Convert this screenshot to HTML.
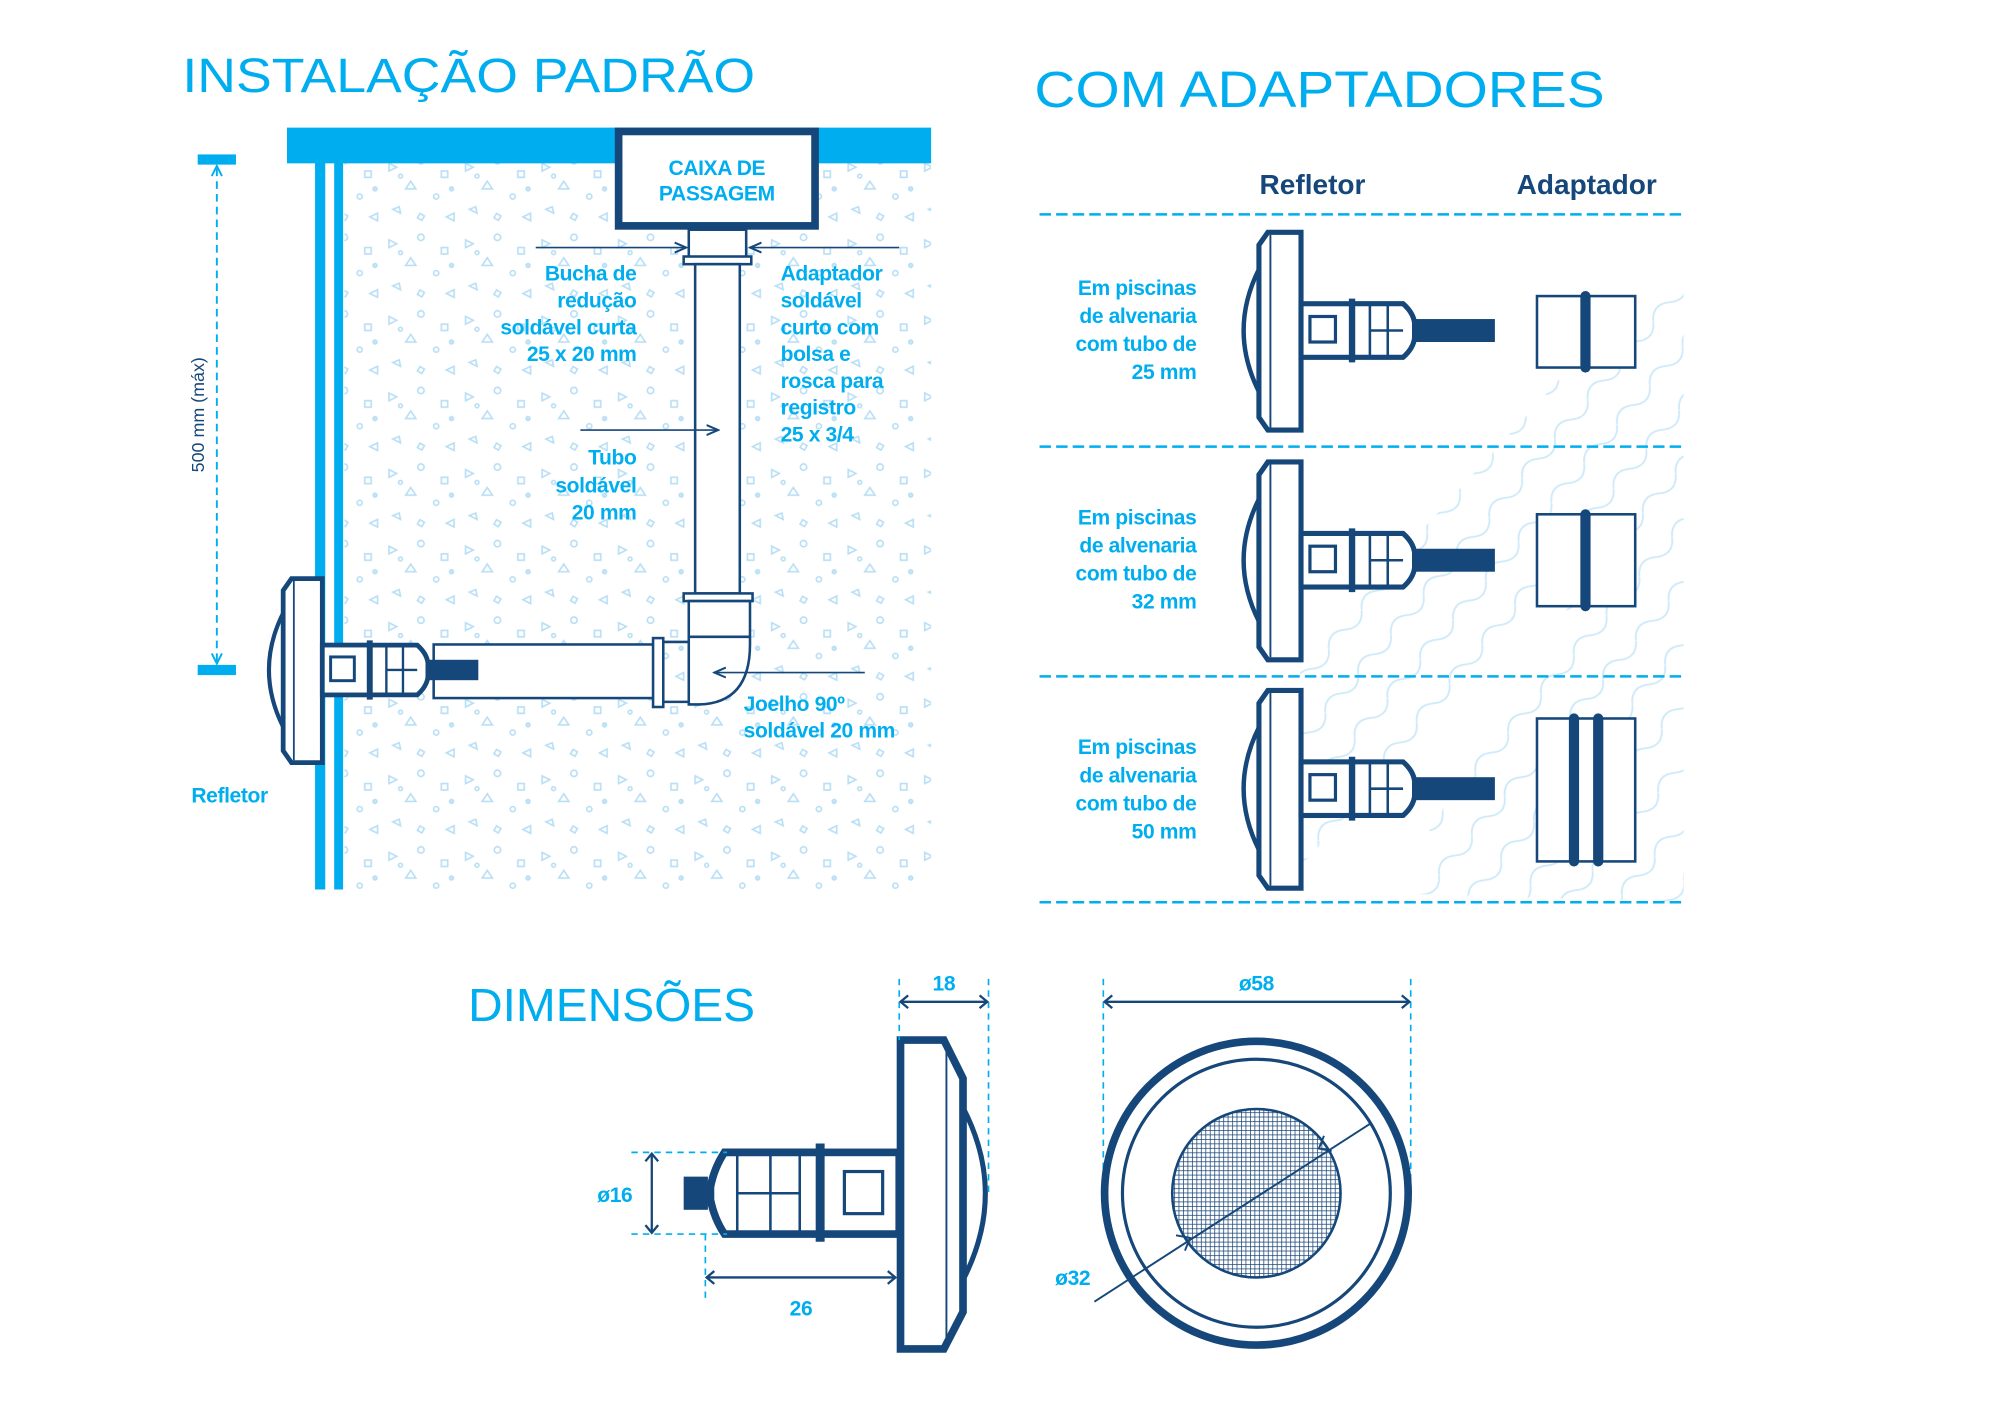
<!DOCTYPE html>
<html><head><meta charset="utf-8"><style>
html,body{margin:0;padding:0;background:#fff;width:2000px;height:1414px;overflow:hidden}
svg{display:block}
.t{font-family:"Liberation Sans",sans-serif;}
.lab{font-family:"Liberation Sans",sans-serif;font-weight:bold;fill:#00aeef;font-size:16.5px;letter-spacing:-0.3px}
</style></head><body>
<svg width="2000" height="1414" viewBox="0 0 1568 1108" preserveAspectRatio="none" xmlns="http://www.w3.org/2000/svg">
<defs>
<pattern id="dots" width="60" height="60" patternUnits="userSpaceOnUse">
<g fill="none" stroke="#b9dff5" stroke-width="1.3">
<path d="M5 8 l6 3 l-6 3z"/><circle cx="30" cy="6" r="2.5"/><rect x="46" y="14" width="5" height="5"/>
<path d="M18 28 l4 -6 l4 6z"/><circle cx="42" cy="34" r="2"/><path d="M8 44 l5 -2 l1 5z"/>
<rect x="28" y="48" width="4" height="4" transform="rotate(30 30 50)"/><path d="M50 50 l6 -3 l0 6z"/>
<circle cx="14" cy="18" r="1.5"/><circle cx="54" cy="28" r="1.5" fill="#c9e8f8"/>
</g>
</pattern>
<pattern id="waves" width="40" height="30" patternUnits="userSpaceOnUse" patternTransform="rotate(-50)">
<path d="M0 15 Q10 5 20 15 T40 15" fill="none" stroke="#cfeaf9" stroke-width="1.5"/>
</pattern>
<pattern id="mesh" width="3.5" height="3.5" patternUnits="userSpaceOnUse">
<rect width="3.5" height="3.5" fill="#fff"/>
<path d="M0 0 H3.5 M0 0 V3.5" stroke="#1b4677" stroke-width="1.2"/>
</pattern>
<g id="refl" fill="#fff" stroke="#16477a">
<path d="M0 -48 Q-24 0 0 48" stroke-width="3.5"/>
<path d="M0 -67 L7 -77 H33 V78 H7 L0 68 Z" stroke-width="4"/>
<line x1="9" y1="-75" x2="9" y2="76" stroke-width="1.5"/>
<rect x="33" y="-21" width="40" height="42" stroke-width="4"/>
<rect x="40" y="-11" width="20" height="20" stroke-width="2.5"/>
<path d="M73 -21 H113 Q121 -14 122 -6 V6 Q121 14 113 21 H73 Z" stroke-width="4"/>
<line x1="73" y1="-25" x2="73" y2="25" stroke-width="5"/>
<line x1="87" y1="-21" x2="87" y2="21" stroke-width="2"/>
<line x1="101" y1="-21" x2="101" y2="21" stroke-width="2"/>
<line x1="87" y1="0" x2="113" y2="0" stroke-width="2"/>
</g>
<marker id="ar" markerWidth="8" markerHeight="8" refX="7" refY="4" orient="auto"><path d="M0 1 L7 4 L0 7" fill="none" stroke="#16477a" stroke-width="1.2"/></marker>
</defs>

<!-- INSTALACAO PADRAO -->
<text x="143" y="72" class="t" font-size="38" fill="#00aeef" textLength="449" lengthAdjust="spacingAndGlyphs">INSTALAÇÃO PADRÃO</text>
<rect x="270" y="127" width="460" height="570" fill="url(#dots)"/>
<rect x="225" y="100" width="505" height="28" fill="#00aeef"/>
<rect x="247" y="127" width="8" height="570" fill="#00aeef"/>
<rect x="262" y="127" width="7" height="570" fill="#00aeef"/>
<rect x="485" y="103" width="154" height="74" fill="#fff" stroke="#16477a" stroke-width="6"/>
<text x="562" y="137" text-anchor="middle" class="lab" font-size="17">CAIXA DE</text>
<text x="562" y="157" text-anchor="middle" class="lab" font-size="17">PASSAGEM</text>
<!-- pipes -->
<g fill="#fff" stroke="#16477a" stroke-width="2">
<rect x="540" y="180" width="45" height="22"/>
<rect x="536" y="201" width="53" height="6"/>
<rect x="545" y="207" width="35" height="258"/>
<rect x="536" y="465" width="54" height="6"/>
<path d="M540 471 H588 V505 Q588 551 548 552 H540 Z"/>
<line x1="540" y1="499" x2="588" y2="499"/>
<rect x="340" y="505" width="175" height="42"/>
<rect x="512" y="500" width="8" height="54"/>
<path d="M520 503 H540 M520 550 H540"/>
</g>
<g transform="translate(222,525) scale(0.93)"><use href="#refl"/></g>
<rect x="334" y="517" width="41" height="16" fill="#16477a"/>
<!-- dimension 500 -->
<rect x="155" y="121" width="30" height="8" fill="#00aeef"/>
<rect x="155" y="521" width="30" height="8" fill="#00aeef"/>
<line x1="170" y1="132" x2="170" y2="518" stroke="#00aeef" stroke-width="1.5" stroke-dasharray="6,4"/>
<path d="M166 138 L170 130 L174 138 M166 512 L170 520 L174 512" fill="none" stroke="#00aeef" stroke-width="1.5"/>
<text transform="translate(160,325) rotate(-90)" text-anchor="middle" class="t" font-size="14" fill="#16477a">500 mm (máx)</text>
<!-- leaders -->
<g stroke="#16477a" stroke-width="1.3" marker-end="url(#ar)">
<line x1="420" y1="194" x2="538" y2="194"/>
<line x1="705" y1="194" x2="588" y2="194"/>
<line x1="455" y1="337" x2="563" y2="337"/>
<line x1="678" y1="527" x2="560" y2="527"/>
</g>
<g class="lab" text-anchor="end">
<text x="499" y="220">Bucha de</text><text x="499" y="241">redução</text><text x="499" y="262">soldável curta</text><text x="499" y="283">25 x 20 mm</text>
<text x="499" y="364">Tubo</text><text x="499" y="386">soldável</text><text x="499" y="407">20 mm</text>
</g>
<g class="lab">
<text x="612" y="220">Adaptador</text><text x="612" y="241">soldável</text><text x="612" y="262">curto com</text><text x="612" y="283">bolsa e</text><text x="612" y="304">rosca para</text><text x="612" y="325">registro</text><text x="612" y="346">25 x 3/4</text>
<text x="583" y="557">Joelho 90º</text><text x="583" y="578">soldável 20 mm</text>
</g>
<text x="150" y="629" class="lab" font-size="22">Refletor</text>

<!-- COM ADAPTADORES -->
<text x="811" y="84" class="t" font-size="40" fill="#00aeef" textLength="447" lengthAdjust="spacingAndGlyphs">COM ADAPTADORES</text>
<path d="M1090 700 L1320 330 L1320 707 Z M1020 520 L1320 190 L1320 350 L1000 700Z" fill="url(#waves)"/>
<text x="1029" y="152" text-anchor="middle" class="t" font-weight="bold" font-size="22" fill="#16477a">Refletor</text>
<text x="1244" y="152" text-anchor="middle" class="t" font-weight="bold" font-size="22" fill="#16477a">Adaptador</text>
<g stroke="#00aeef" stroke-width="2" stroke-dasharray="9,4">
<line x1="815" y1="168" x2="1320" y2="168"/><line x1="815" y1="350" x2="1320" y2="350"/>
<line x1="815" y1="530" x2="1320" y2="530"/><line x1="815" y1="707" x2="1320" y2="707"/>
</g>
<g transform="translate(987,259)"><use href="#refl"/></g>
<g transform="translate(987,439)"><use href="#refl"/></g>
<g transform="translate(987,618)"><use href="#refl"/></g>
<g fill="#16477a">
<rect x="1109" y="250" width="63" height="18"/>
<rect x="1109" y="430" width="63" height="18"/>
<rect x="1109" y="609" width="63" height="18"/>
</g>
<g fill="#fff" stroke="#16477a" stroke-width="2">
<rect x="1205" y="232" width="77" height="56"/>
<rect x="1205" y="403" width="77" height="72"/>
<rect x="1205" y="563" width="77" height="112"/>
</g>
<g stroke="#16477a" stroke-width="8" stroke-linecap="round">
<line x1="1243" y1="232" x2="1243" y2="288"/>
<line x1="1243" y1="403" x2="1243" y2="475"/>
<line x1="1234" y1="563" x2="1234" y2="675"/>
<line x1="1253" y1="563" x2="1253" y2="675"/>
</g>
<g class="lab" text-anchor="end" font-size="17">
<text x="938" y="231">Em piscinas</text><text x="938" y="253">de alvenaria</text><text x="938" y="275">com tubo de</text><text x="938" y="297">25 mm</text>
<text x="938" y="411">Em piscinas</text><text x="938" y="433">de alvenaria</text><text x="938" y="455">com tubo de</text><text x="938" y="477">32 mm</text>
<text x="938" y="591">Em piscinas</text><text x="938" y="613">de alvenaria</text><text x="938" y="635">com tubo de</text><text x="938" y="657">50 mm</text>
</g>

<!-- DIMENSOES -->
<text x="367" y="800" class="t" font-size="36" fill="#00aeef" textLength="225" lengthAdjust="spacingAndGlyphs">DIMENSÕES</text>
<g fill="#fff" stroke="#16477a">
<path d="M755 868 Q790 935 755 1003" stroke-width="4"/>
<path d="M706 815 H740 L755 845 V1028 L740 1057 H706 Z" stroke-width="6"/>
<line x1="742" y1="820" x2="742" y2="1053" stroke-width="1.5"/>
<rect x="643" y="903" width="62" height="64" stroke-width="6"/>
<rect x="662" y="918" width="30" height="33" stroke-width="2.5"/>
<path d="M643 903 H568 Q560 915 557 930 V940 Q560 955 568 967 H643 Z" stroke-width="6"/>
<line x1="643" y1="896" x2="643" y2="973" stroke-width="7"/>
<line x1="578" y1="903" x2="578" y2="967" stroke-width="2"/>
<line x1="604" y1="903" x2="604" y2="967" stroke-width="2"/>
<line x1="627" y1="903" x2="627" y2="967" stroke-width="2"/>
<line x1="578" y1="935" x2="627" y2="935" stroke-width="2"/>
<rect x="536" y="922" width="19" height="26" fill="#16477a" stroke="none"/>
</g>
<g stroke="#00aeef" stroke-width="1.3" stroke-dasharray="5,4" fill="none">
<line x1="705" y1="767" x2="705" y2="815"/><line x1="775" y1="767" x2="775" y2="935"/>
<line x1="495" y1="903" x2="570" y2="903"/><line x1="495" y1="967" x2="570" y2="967"/>
<line x1="553" y1="967" x2="553" y2="1020"/>
<line x1="865" y1="767" x2="865" y2="935"/><line x1="1106" y1="767" x2="1106" y2="935"/>
</g>
<g stroke="#16477a" stroke-width="1.8" fill="none">
<line x1="706" y1="785" x2="774" y2="785"/><path d="M712 780 L706 785 L712 790 M768 780 L774 785 L768 790"/>
<line x1="511" y1="904" x2="511" y2="966"/><path d="M506 910 L511 904 L516 910 M506 960 L511 966 L516 960"/>
<line x1="554" y1="1001" x2="702" y2="1001"/><path d="M560 996 L554 1001 L560 1006 M696 996 L702 1001 L696 1006"/>
<line x1="866" y1="785" x2="1105" y2="785"/><path d="M872 780 L866 785 L872 790 M1099 780 L1105 785 L1099 790"/>
</g>
<g class="lab" font-size="19" text-anchor="middle">
<text x="740" y="776">18</text><text x="482" y="942">ø16</text><text x="628" y="1031">26</text>
<text x="985" y="776">ø58</text><text x="841" y="1007">ø32</text>
</g>
<circle cx="985" cy="935" r="119" fill="#fff" stroke="#16477a" stroke-width="6"/>
<circle cx="985" cy="935" r="105" fill="none" stroke="#16477a" stroke-width="2.5"/>
<circle cx="985" cy="935" r="66" fill="url(#mesh)" stroke="#16477a" stroke-width="2"/>
<line x1="858" y1="1020" x2="1075" y2="880" stroke="#16477a" stroke-width="1.5"/>
<path d="M922 968 L933 970 L929 980 M1044 902 L1034 900 L1038 890" fill="none" stroke="#16477a" stroke-width="1.5"/>
</svg>
</body></html>
